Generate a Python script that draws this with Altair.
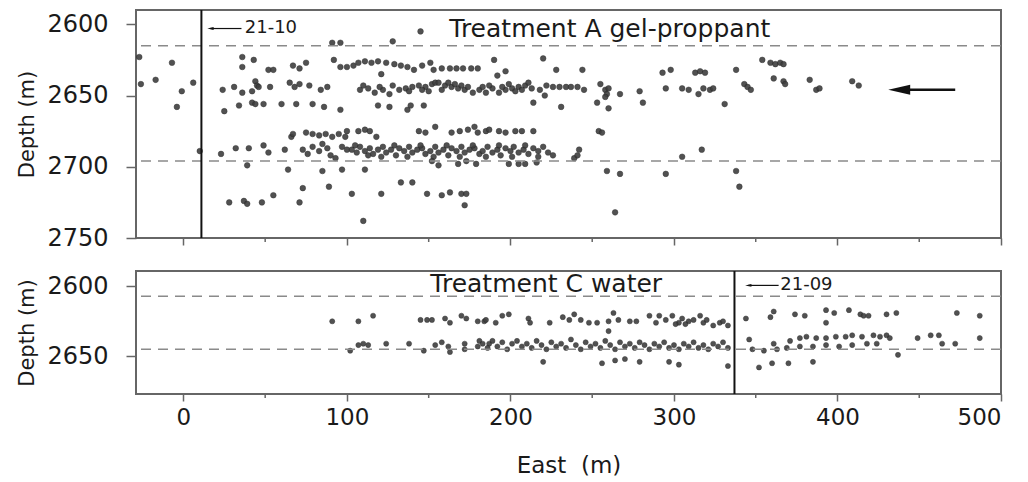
import altair as alt
import pandas as pd

FONT = "DejaVu Sans"

# ---------------- axes ----------------
X_DOMAIN = [-29, 500]
x_major = [0, 100, 200, 300, 400, 500]
x_minor = [50, 150, 250, 350, 450]

top_depth_domain = [2590, 2750]
top_depth_ticks = [2600, 2650, 2700, 2750]
bot_depth_domain = [2589, 2677]
bot_depth_ticks = [2600, 2650]

# ---------------- reference lines ----------------
top_zone_depths = [2615, 2696]
bot_zone_depths = [2607, 2645]
top_well_east = 11
bot_well_east = 337

# ---------------- Treatment A (top) events: (east, depth) ----------------
top_left = [(-27, 2623), (-7, 2627), (-26, 2642), (-17, 2639), (-1, 2647), (6, 2641), (-4, 2658), (10, 2689)]
top_band_a = [(91, 2613), (96, 2613), (128, 2612), (145, 2605)]
top_band_b = [(36, 2623), (43, 2625), (36, 2630), (52, 2632), (55, 2632), (67, 2629), (71, 2631), (75, 2627),
              (92, 2625), (96, 2630), (100, 2630), (104, 2629), (107, 2627), (111, 2626), (115, 2627), (119, 2626),
              (124, 2627), (129, 2628), (133, 2629), (137, 2630), (141, 2632), (146, 2629), (151, 2627), (153, 2632),
              (158, 2631), (163, 2631), (167, 2631), (171, 2631), (176, 2631), (180, 2631), (121, 2635), (190, 2625),
              (192, 2636), (197, 2633), (220, 2624), (228, 2632), (244, 2632), (293, 2634), (298, 2632), (313, 2634),
              (316, 2633), (319, 2634), (338, 2632), (354, 2625), (359, 2627), (362, 2628), (365, 2627), (367, 2628)]
top_band_c = [(24, 2646), (31, 2644), (36, 2648), (42, 2647), (44, 2640), (45, 2643), (46, 2644), (53, 2644),
              (65, 2641), (68, 2644), (71, 2642), (77, 2643), (84, 2646), (88, 2644),
              (108, 2646), (113, 2645), (117, 2648), (122, 2646), (126, 2649), (132, 2646), (136, 2645), (140, 2644),
              (144, 2643), (148, 2644), (152, 2642), (154, 2641), (156, 2641), (160, 2643), (164, 2644), (168, 2645),
              (172, 2646), (177, 2648), (181, 2646), (185, 2648), (189, 2645), (193, 2648), (197, 2646), (201, 2645),
              (205, 2644), (209, 2643), (213, 2645), (218, 2646), (221, 2650), (222, 2643), (226, 2644), (230, 2644),
              (234, 2644), (110, 2643), (120, 2644), (128, 2643), (138, 2647), (146, 2646), (150, 2647), (158, 2646),
              (162, 2641), (166, 2642), (170, 2643), (174, 2644), (183, 2644), (187, 2643), (195, 2644), (199, 2642),
              (203, 2647), (207, 2646), (211, 2641),
              (237, 2644), (241, 2644), (245, 2646), (255, 2642), (258, 2646), (259, 2649), (258, 2651), (260, 2645),
              (267, 2649), (279, 2647), (295, 2645), (305, 2645), (309, 2646), (315, 2649), (318, 2645), (322, 2646),
              (324, 2645), (343, 2642), (345, 2644), (347, 2646), (361, 2638), (367, 2640), (368, 2642), (383, 2639),
              (387, 2646), (389, 2645), (409, 2640), (413, 2643)]
top_band_d = [(25, 2661), (34, 2657), (42, 2655), (44, 2656), (49, 2656), (60, 2656), (69, 2656), (79, 2656),
              (86, 2658), (96, 2660), (119, 2657), (126, 2658), (137, 2660), (139, 2657), (147, 2657), (214, 2655),
              (231, 2658), (253, 2655), (260, 2659), (281, 2655), (331, 2656)]
top_band_e = [(66, 2679), (67, 2677), (75, 2676), (79, 2677), (83, 2678), (87, 2677), (91, 2679), (95, 2677),
              (99, 2679), (100, 2675), (107, 2675), (111, 2674), (114, 2675), (118, 2679), (144, 2675), (148, 2676),
              (154, 2672), (164, 2676), (169, 2675), (174, 2674), (178, 2672), (180, 2676), (185, 2675), (187, 2674),
              (193, 2675), (197, 2676), (203, 2675), (207, 2675), (214, 2675), (254, 2675), (256, 2676)]
top_band_f = [(23, 2691), (32, 2687), (40, 2687), (49, 2685), (52, 2690), (62, 2688), (73, 2688), (76, 2691),
              (79, 2686), (83, 2689), (85, 2684), (88, 2687), (90, 2692), (93, 2694), (97, 2686), (100, 2688),
              (103, 2688), (106, 2690), (108, 2686), (111, 2689), (114, 2687), (116, 2691), (119, 2688), (122, 2686),
              (124, 2690), (127, 2688), (130, 2692), (132, 2687), (135, 2689), (138, 2686), (140, 2690), (143, 2688),
              (146, 2687), (148, 2691), (151, 2689), (154, 2686), (156, 2690), (159, 2688), (162, 2692), (164, 2687),
              (167, 2689), (170, 2686), (172, 2690), (175, 2688), (178, 2687), (181, 2691), (183, 2689), (186, 2686),
              (189, 2690), (192, 2688), (194, 2692), (197, 2687), (200, 2689), (202, 2686), (205, 2690), (208, 2688),
              (211, 2691), (214, 2687), (217, 2689), (220, 2686), (223, 2690), (226, 2692),
              (105, 2685), (113, 2692), (121, 2693), (129, 2685), (137, 2693), (145, 2685), (153, 2693), (161, 2685),
              (169, 2693), (177, 2685), (185, 2693), (193, 2685), (201, 2693), (209, 2685), (217, 2693),
              (242, 2688), (239, 2694), (241, 2692), (317, 2688), (305, 2693)]
top_band_g = [(39, 2699), (64, 2702), (85, 2703), (97, 2702), (111, 2702), (152, 2696), (156, 2699), (168, 2698),
              (173, 2696), (179, 2698), (199, 2698), (205, 2698), (209, 2698), (216, 2697), (259, 2703), (267, 2705),
              (295, 2705), (338, 2703)]
top_deep = [(73, 2715), (89, 2714), (103, 2719), (28, 2725), (37, 2724), (39, 2726), (48, 2725), (55, 2720),
            (71, 2725), (133, 2711), (140, 2711), (121, 2719), (149, 2719), (158, 2720), (163, 2718), (170, 2719),
            (173, 2719), (172, 2727), (110, 2738), (340, 2714), (264, 2732)]

# ---------------- Treatment C (bottom) events: (east, depth) ----------------
bot_upper = [(91, 2625), (107, 2625), (116, 2621), (145, 2624), (149, 2624), (152, 2624), (160, 2623), (163, 2626),
             (170, 2621), (173, 2623), (180, 2625), (184, 2625),
             (185, 2624), (191, 2626), (195, 2621), (199, 2620), (211, 2623), (212, 2626), (224, 2626), (232, 2622),
             (236, 2624), (239, 2620), (243, 2624), (248, 2626), (253, 2626), (260, 2625), (263, 2619), (266, 2624),
             (273, 2625), (277, 2625), (285, 2621), (289, 2626), (291, 2621), (299, 2621), (303, 2626), (305, 2623),
             (309, 2625), (316, 2621), (318, 2626), (324, 2628), (328, 2626), (333, 2628), (295, 2624), (301, 2627),
             (307, 2627), (312, 2624), (320, 2624), (330, 2625), (260, 2632),
             (344, 2623), (359, 2622), (361, 2618), (374, 2620), (380, 2621), (393, 2617), (398, 2619), (393, 2626),
             (407, 2617), (414, 2620), (416, 2621), (419, 2621), (430, 2620), (436, 2619), (473, 2619), (487, 2621)]
bot_lower = [(102, 2646), (107, 2642), (110, 2641), (113, 2642), (124, 2641), (138, 2641), (147, 2646), (154, 2642),
             (158, 2640), (162, 2643), (163, 2647), (172, 2641), (172, 2645), (180, 2643), (181, 2639), (187, 2641),
             (183, 2641), (186, 2644), (189, 2639), (192, 2643), (195, 2640), (198, 2645), (201, 2641), (204, 2639),
             (207, 2643), (210, 2641), (213, 2644), (216, 2639), (219, 2642), (222, 2645), (225, 2640), (228, 2643),
             (231, 2641), (234, 2644), (237, 2638), (240, 2642), (243, 2645), (246, 2640), (249, 2643), (252, 2641),
             (255, 2644), (258, 2639), (261, 2642), (264, 2645), (267, 2640), (270, 2643), (273, 2641), (276, 2644),
             (279, 2640), (282, 2642), (285, 2645), (288, 2641), (291, 2643), (294, 2640), (297, 2644), (300, 2642),
             (303, 2645), (306, 2641), (309, 2643), (312, 2640), (315, 2644), (318, 2642), (321, 2645), (324, 2641),
             (327, 2643), (330, 2640), (333, 2644),
             (346, 2638), (361, 2641), (371, 2639), (377, 2637), (381, 2636), (387, 2637), (393, 2637), (399, 2636),
             (405, 2636), (409, 2635), (415, 2636), (422, 2635), (426, 2636), (430, 2635), (432, 2637), (449, 2637),
             (457, 2635), (462, 2635), (464, 2641), (472, 2641), (487, 2637),
             (348, 2645), (355, 2646), (363, 2645), (369, 2644), (377, 2643), (385, 2643), (393, 2642), (401, 2643),
             (409, 2642), (418, 2641), (424, 2641)]
bot_deep = [(220, 2654), (256, 2655), (264, 2653), (270, 2652), (279, 2654), (297, 2654), (303, 2656), (333, 2657),
            (437, 2649), (352, 2658), (360, 2655), (370, 2655), (385, 2654)]

top_events = top_left + top_band_a + top_band_b + top_band_c + top_band_d + top_band_e + top_band_f + top_band_g + top_deep
bot_events = bot_upper + bot_lower + bot_deep

ARROW_PATH = "M-1,0L1,-0.45L1,0.45Z"


def panel(events, zone_depths, well_east, depth_domain, depth_ticks, height, show_labels,
          title_text, title_pos, well_label, well_label_pos, well_arrow, big_arrow, dot_size):
    xs = alt.Scale(domain=X_DOMAIN, nice=False, zero=False)
    ys = alt.Scale(domain=depth_domain, reverse=True, nice=False, zero=False)
    x_axis = alt.Axis(values=x_major, labels=show_labels, title="East\u00a0\u00a0(m)" if show_labels else None,
                      tickSize=7, labelFontSize=23, labelPadding=5, titlePadding=25, titleFontSize=23)
    y_axis = alt.Axis(values=depth_ticks, format="d", title="Depth (m)", tickSize=10, labelFontSize=24,
                      labelPadding=18, titlePadding=9, titleFontSize=21)

    def X(f="east"):
        return alt.X(f + ":Q", scale=xs, axis=x_axis)

    def Y(f="depth"):
        return alt.Y(f + ":Q", scale=ys, axis=y_axis)

    df = pd.DataFrame(events, columns=["east", "depth"])
    pts = alt.Chart(df).mark_point(filled=True, shape="circle", size=dot_size, color="#3f3f3f",
                                   opacity=0.9, stroke="#222", strokeWidth=0.5).encode(x=X(), y=Y())

    zones = alt.Chart(pd.DataFrame({"depth": zone_depths})).mark_rule(
        color="#8a8a8a", strokeDash=[10, 7], strokeWidth=1.5).encode(y=Y())

    well = alt.Chart(pd.DataFrame({"east": [well_east]})).mark_rule(
        color="#111", strokeWidth=2).encode(x=X())

    minor = alt.Chart(pd.DataFrame({"east": x_minor})).mark_rule(
        color="#666", strokeWidth=1.5, clip=False).encode(
        x=X(), y=alt.value(height), y2=alt.value(height + 4))

    title = alt.Chart(pd.DataFrame({"east": [title_pos[0]], "depth": [title_pos[1]], "t": [title_text]})).mark_text(
        align="left", baseline="middle", fontSize=25, font=FONT, color="#1a1a1a").encode(
        x=X(), y=Y(), text="t:N")

    wl = alt.Chart(pd.DataFrame({"east": [well_label_pos[0]], "depth": [well_label_pos[1]], "t": [well_label]})).mark_text(
        align="left", baseline="middle", fontSize=18, font=FONT, color="#1a1a1a").encode(
        x=X(), y=Y(), text="t:N")

    layers = [pts, zones, well, minor, title, wl]

    for (x0, x1, d, head_len, sw, hsize) in [well_arrow] + ([big_arrow] if big_arrow else []):
        line = alt.Chart(pd.DataFrame({"east": [x0 + head_len * 0.5], "east2": [x1], "depth": [d]})).mark_rule(
            color="#111", strokeWidth=sw).encode(x=X(), x2="east2:Q", y=Y())
        head = alt.Chart(pd.DataFrame({"east": [x0 + head_len * 0.5], "depth": [d]})).mark_point(
            shape=ARROW_PATH, filled=True, color="#111", opacity=1, size=hsize).encode(x=X(), y=Y())
        layers += [line, head]

    return alt.layer(*layers).properties(width=865, height=height)


top = panel(top_events, top_zone_depths, top_well_east, top_depth_domain, top_depth_ticks, 228, False,
            "Treatment A gel-proppant", (162.6, 2603.5), "21-10", (37.5, 2602.8),
            (14.7, 35.5, 2603, 3.7, 1.2, 40), (431, 472, 2646, 13.5, 2.5, 480), 32)
bottom = panel(bot_events, bot_zone_depths, bot_well_east, bot_depth_domain, bot_depth_ticks, 123, True,
               "Treatment C water", (151, 2598.6), "21-09", (365, 2599.3),
               (343.6, 364, 2599.3, 3.7, 1.2, 40), None, 26)

chart = alt.vconcat(top, bottom, spacing=18).properties(
    padding={"left": 15, "top": 8, "right": 5, "bottom": 5}
).configure_view(stroke="#666", strokeWidth=2).configure_axis(
    labelFont=FONT, titleFont=FONT, labelColor="#1a1a1a", titleColor="#1a1a1a",
    tickColor="#666", tickWidth=1.5, domain=False, grid=False, titleFontWeight="normal"
)

chart.save("out.html", embed_options={"renderer": "svg", "actions": False})
